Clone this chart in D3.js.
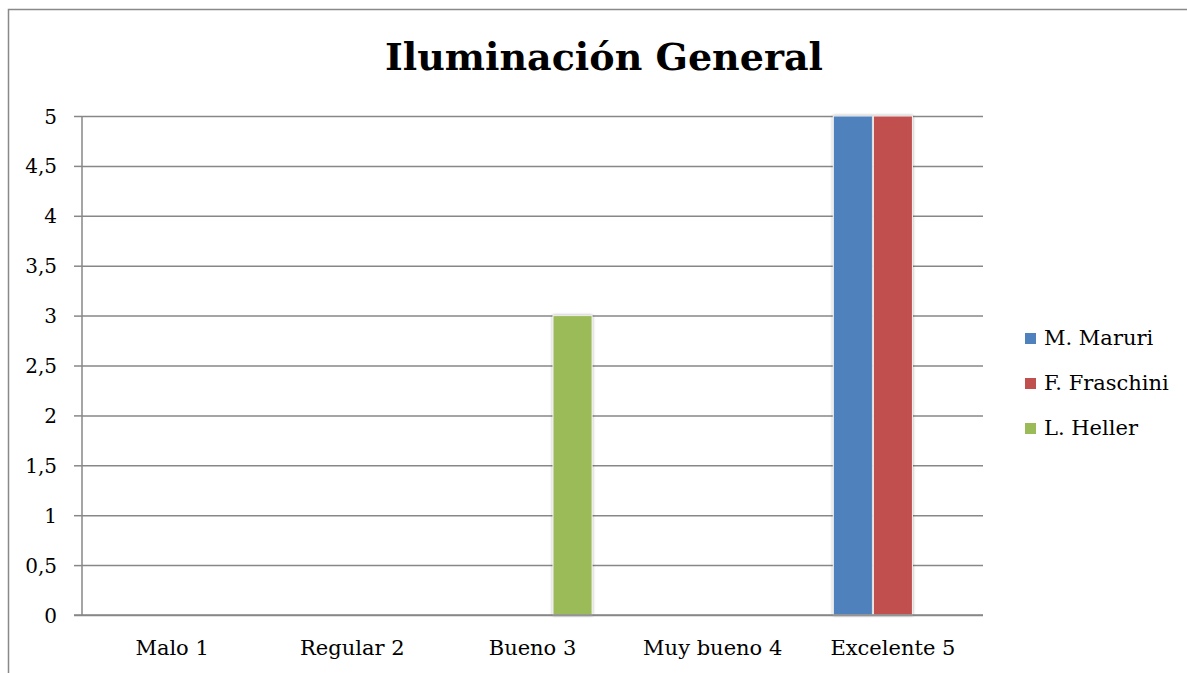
<!DOCTYPE html>
<html>
<head>
<meta charset="utf-8">
<script src="https://cdn.jsdelivr.net/npm/d3@7"></script>
<style>
  body { margin: 0; background: #fff; }
  svg text { font-family: "DejaVu Serif", "Liberation Serif", serif; fill: #000; }
</style>
</head>
<body>
<svg id="chart" width="1187" height="673"></svg>
<script>
const categories = ["Malo 1", "Regular 2", "Bueno 3", "Muy bueno 4", "Excelente 5"];
const seriesNames = ["M. Maruri", "F. Fraschini", "L. Heller"];
const maruri = [0, 0, 0, 0, 5];
const fraschini = [0, 0, 0, 0, 5];
const heller = [0, 0, 3, 0, 0];
const yTicks = [0, 0.5, 1, 1.5, 2, 2.5, 3, 3.5, 4, 4.5, 5];
const colors = ["#4F81BD", "#C0504D", "#9BBB59"];

const values = [maruri, fraschini, heller];
const width = 1187, height = 673;
const margin = { top: 116, right: 204, bottom: 58, left: 82 };

const svg = d3.select("#chart");

// shadow for bars
const defs = svg.append("defs");
const f = defs.append("filter").attr("id", "shadow")
    .attr("x", "-20%").attr("y", "-5%").attr("width", "140%").attr("height", "110%");
f.append("feGaussianBlur").attr("in", "SourceAlpha").attr("stdDeviation", 1.5).attr("result", "b");
f.append("feComponentTransfer").attr("in", "b").attr("result", "s")
    .append("feFuncA").attr("type", "linear").attr("slope", 0.35);
const m = f.append("feMerge");
m.append("feMergeNode").attr("in", "s");
m.append("feMergeNode").attr("in", "SourceGraphic");

// outer frame (runs off the picture on the right and bottom)
svg.append("rect")
    .attr("x", 8.5).attr("y", 9.5)
    .attr("width", 1200).attr("height", 700)
    .attr("fill", "none").attr("stroke", "#898989").attr("stroke-width", 1.5);

const x = d3.scaleBand().domain(categories)
    .range([margin.left, width - margin.right]);
const xInner = d3.scaleBand().domain(seriesNames)
    .range([0, x.bandwidth()]).paddingInner(0).paddingOuter(0.75);
const y = d3.scaleLinear().domain([0, 5])
    .range([height - margin.bottom, margin.top]);

// gridlines
svg.append("g")
    .attr("transform", "translate(" + margin.left + ",0)")
    .call(d3.axisLeft(y).tickValues(yTicks)
        .tickSize(-(width - margin.right - margin.left)).tickFormat(""))
    .call(g => g.select(".domain").remove())
    .call(g => g.selectAll("line").attr("stroke", "#878787").attr("stroke-width", 1.5));

// bars
categories.forEach((c, i) => {
    seriesNames.forEach((s, j) => {
        const v = values[j][i];
        if (!v) return;
        svg.append("rect")
            .attr("x", x(c) + xInner(s) + 0.5)
            .attr("y", y(v))
            .attr("width", xInner.bandwidth() - 1)
            .attr("height", y(0) - y(v))
            .attr("fill", colors[j])
            .attr("stroke", "#f2f2f2")
            .attr("stroke-width", 1)
            .attr("filter", "url(#shadow)");
    });
});

// y axis
const yAxis = svg.append("g")
    .attr("transform", "translate(" + margin.left + ",0)")
    .call(d3.axisLeft(y).tickValues(yTicks).tickSize(8).tickPadding(17)
        .tickFormat(d => String(d).replace(".", ",")));
yAxis.selectAll("line, .domain").attr("stroke", "#878787").attr("stroke-width", 1.5);
yAxis.select(".domain").attr("d", "M0," + y(5) + "V" + y(0));
yAxis.selectAll("text").style("font-size", "20px").attr("dy", "0.35em");

// x axis line at 0
svg.append("line")
    .attr("x1", margin.left - 8).attr("x2", width - margin.right)
    .attr("y1", y(0)).attr("y2", y(0))
    .attr("stroke", "#878787").attr("stroke-width", 1.5);

// x labels
svg.append("g").selectAll("text")
    .data(categories).join("text")
    .attr("x", d => x(d) + x.bandwidth() / 2)
    .attr("y", y(0) + 33)
    .attr("dy", "0.35em")
    .attr("text-anchor", "middle")
    .style("font-size", "21px")
    .text(d => d);

// title
svg.append("text")
    .attr("x", 604).attr("y", 57)
    .attr("dy", "0.35em")
    .attr("text-anchor", "middle")
    .style("font-size", "38px").style("font-weight", "bold")
    .text("Iluminación General");

// legend
const legend = svg.append("g").selectAll("g")
    .data(seriesNames).join("g")
    .attr("transform", (d, i) => "translate(1025," + (338 + i * 45) + ")");
legend.append("rect")
    .attr("x", 0).attr("y", -5).attr("width", 11).attr("height", 11)
    .attr("fill", (d, i) => colors[i]);
legend.append("text")
    .attr("x", 19).attr("y", 0).attr("dy", "0.35em")
    .style("font-size", "21px")
    .text(d => d);
</script>
</body>
</html>
